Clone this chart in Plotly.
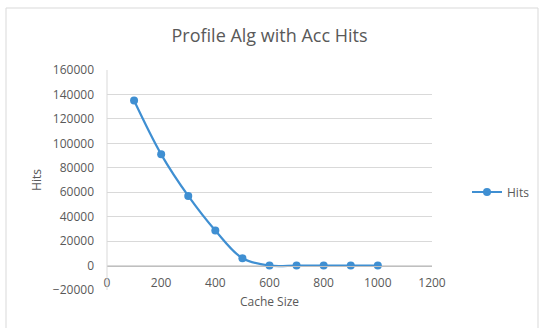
import plotly.graph_objects as go

# Cache size vs. accumulated hits for the profiling algorithm
cache_size = [100, 200, 300, 400, 500, 600, 700, 800, 900, 1000]
hits = [135000, 91000, 57000, 28700, 6000, 0, 0, 0, 0, 0]

x_ticks = [0, 200, 400, 600, 800, 1000, 1200]
y_ticks = [-20000, 0, 20000, 40000, 60000, 80000, 100000, 120000, 140000, 160000]

W, H = 540, 328
L, R, T, B = 107, 108, 70, 38
pw, ph = W - L - R, H - T - B

def px(xp):
    return (xp - L) / pw

def py(yp):
    return (H - B - yp) / ph

TEXT = "#595959"
GRID = "#d9d9d9"
BLUE = "#3f8fd2"
FONT = "Open Sans"

fig = go.Figure()
fig.add_trace(go.Scatter(
    x=cache_size, y=hits, name="Hits", mode="lines+markers",
    line=dict(color=BLUE, width=2.2, shape="spline", smoothing=1.0),
    marker=dict(color=BLUE, size=8),
))

y_min, y_max = y_ticks[0], y_ticks[-1]

fig.update_layout(
    width=W, height=H,
    margin=dict(l=L, r=R, t=T, b=B, autoexpand=False),
    paper_bgcolor="white", plot_bgcolor="white",
    font=dict(family=FONT, color=TEXT, size=12),
    title=dict(text="Profile Alg with Acc Hits", x=0.5, xref="paper",
               y=1 - 36 / H, yanchor="middle",
               font=dict(size=18, color=TEXT, family=FONT)),
    xaxis=dict(
        range=[x_ticks[0], x_ticks[-1]], tickvals=x_ticks, tickformat="d",
        showgrid=False, zeroline=False, automargin=False,
        anchor="free", position=(0 - y_min) / (y_max - y_min),
        showline=True, linecolor="#bfbfbf", linewidth=1,
        ticks="", ticklabelstandoff=6, tickfont=dict(size=12, color=TEXT),
        title=dict(text="Cache Size", font=dict(size=12, color=TEXT), standoff=7),
    ),
    yaxis=dict(
        range=[y_min, y_max], tickvals=y_ticks, tickformat="d",
        showgrid=True, gridcolor=GRID, gridwidth=1, zeroline=False,
        showline=False, ticks="", ticklabelstandoff=12, automargin=False,
        tickfont=dict(size=12, color=TEXT),
        title=dict(text="Hits", font=dict(size=12, color=TEXT), standoff=8),
    ),
    showlegend=True,
    legend=dict(x=px(467), y=py(192), xanchor="left", yanchor="middle",
                font=dict(size=12, color=TEXT), bgcolor="rgba(0,0,0,0)"),
    shapes=[
        # left axis line
        dict(type="line", xref="paper", yref="paper", x0=0, x1=0, y0=0, y1=1,
             line=dict(color=GRID, width=1)),
        # chart border
        dict(type="rect", xref="paper", yref="paper",
             x0=px(6), x1=px(538), y0=py(340), y1=py(8),
             line=dict(color="#d9d9d9", width=1), fillcolor="rgba(0,0,0,0)",
             layer="below"),
    ],
)

fig.write_html("out.html")
